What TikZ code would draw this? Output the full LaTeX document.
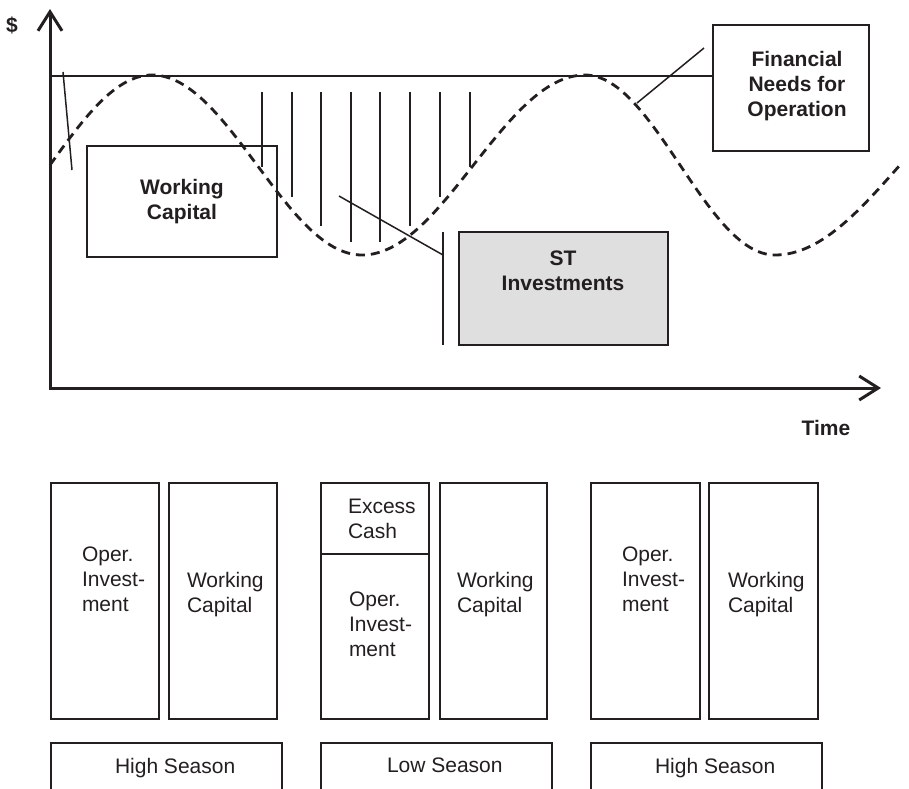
\documentclass[tikz,border=0pt]{standalone}
\usepackage{fontspec}
\setmainfont{Liberation Sans}
\usetikzlibrary{arrows.meta}
\definecolor{ink}{HTML}{231F20}
\definecolor{stgray}{HTML}{DFDFE0}
\begin{document}
\begin{tikzpicture}[x=1pt,y=-1pt,
 every node/.style={inner sep=0pt,outer sep=0pt,text=ink,font=\fontsize{21}{25}\selectfont},
 lbl/.style={font=\fontsize{21}{25}\selectfont\bfseries,align=center},
 txt/.style={align=left,anchor=north west},
 box/.style={draw=ink,line width=2pt,anchor=north west},
 thinbox/.style={draw=ink,line width=1.6pt,anchor=north west},
 axis/.style={draw=ink,line width=3pt,{Straight Barb[length=19pt,width=24pt]}-{Straight Barb[length=19pt,width=24pt]}},
 leader/.style={draw=ink,line width=1.5pt},
 hatch/.style={draw=ink,line width=1.5pt},
 curve/.style={draw=ink,line width=2.8pt,dash pattern=on 9pt off 6pt}
]
\useasboundingbox (0,0) rectangle (909,788);

% axes
\coordinate (ytip) at (50,9);
\coordinate (origin) at (50,388);
\coordinate (xtip) at (881,388);
\draw[axis] (ytip) -- (origin) -- (xtip);
\node[lbl] (dollar) at (12,25) {\$};
\node[lbl] (time) at (826,428) {Time};

% boxes in chart
\node[thinbox, minimum width=156pt, minimum height=126pt] (fno) at (713,25) {};
\node[lbl] (fnotext) at (797,86) {Financial\\Needs for\\Operation};
\node[thinbox, minimum width=190pt, minimum height=111pt] (wcbox) at (87,146) {};
\node[lbl] (wctext) at (182,202) {Working\\Capital};
\node[box, fill=stgray, minimum width=209pt, minimum height=113pt] (stbox) at (459,232) {};
\node[lbl] (sttext) at (563,271) {ST\\Investments};

% level line
\coordinate (lv) at (50,76);
\draw[ink,line width=2.5pt] (lv) -- (lv -| fno.west);

% hatch lines
\foreach \hx/\hy in {262/167, 292/197, 321/226, 351/242, 380/242, 410/226, 440/197, 470/167}
  \draw[hatch] (\hx,92) -- (\hx,\hy);

% dashed curve
\draw[curve] plot[domain=50:152,samples=30] (\x,{165-90*sin((\x-50)/102*90)})
  -- plot[domain=152:362,samples=60] (\x,{165-90*cos((\x-152)/210*180)})
  -- plot[domain=362:585,samples=60] (\x,{165+90*cos((\x-362)/223*180)})
  -- plot[domain=585:775,samples=60] (\x,{165-90*cos((\x-585)/190*180)})
  -- plot[domain=775:900,samples=30] (\x,{165+90*cos((\x-775)/125*90)});

% leaders
\coordinate (wcA) at (63,72); \coordinate (wcB) at (72,170);
\draw[leader] (wcA) -- (wcB);
\coordinate (fnA) at (637,103); \coordinate (fnB) at (704,48);
\draw[leader] (fnA) -- (fnB);
\coordinate (stA) at (339,196); \coordinate (stB) at (443,255);
\draw[leader] (stA) -- (stB);
\coordinate (brT) at (443,232); \coordinate (brB) at (443,345);
\draw[leader] (brT) -- (brB);

% bottom balance sheets
\node[box, minimum width=108pt, minimum height=236pt] (oi1) at (51,483) {};
\node[box, minimum width=108pt, minimum height=236pt] (wc1) at (169,483) {};
\node[box, minimum width=108pt, minimum height=71pt] (ex) at (321,483) {};
\node[box, minimum width=108pt, minimum height=165pt] (oi2) at (321,554) {};
\node[box, minimum width=107pt, minimum height=236pt] (wc2) at (440,483) {};
\node[box, minimum width=109pt, minimum height=236pt] (oi3) at (591,483) {};
\node[box, minimum width=109pt, minimum height=236pt] (wc3) at (709,483) {};

\node[txt] (toi1) at (82,547) {Oper.\\Invest-\\ment};
\node[txt] (twc1) at (187,572) {Working\\Capital};
\node[txt] (tex) at (348,499) {Excess\\Cash};
\node[txt] (toi2) at (349,592) {Oper.\\Invest-\\ment};
\node[txt] (twc2) at (457,572) {Working\\Capital};
\node[txt] (toi3) at (622,547) {Oper.\\Invest-\\ment};
\node[txt] (twc3) at (728,572) {Working\\Capital};

% seasons
\node[box, minimum width=231pt, minimum height=60pt] (hs1) at (51,743) {};
\node[box, minimum width=231pt, minimum height=60pt] (ls) at (321,743) {};
\node[box, minimum width=231pt, minimum height=60pt] (hs2) at (591,743) {};
\node[txt] (ths1) at (115,758) {High Season};
\node[txt] (tls) at (387,758) {Low Season};
\node[txt] (ths2) at (655,758) {High Season};
\end{tikzpicture}
\end{document}
